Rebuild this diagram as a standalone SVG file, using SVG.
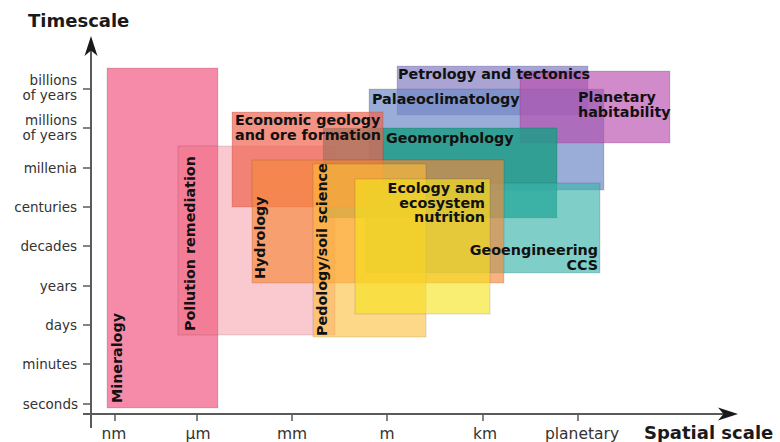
<svg xmlns="http://www.w3.org/2000/svg" width="780" height="442" viewBox="0 0 780 442">
<style>
.area{stroke:#000;stroke-opacity:0.12;stroke-width:1}
.lbl{font-family:"DejaVu Sans","Liberation Sans",sans-serif;font-weight:bold;font-size:14.3px;fill:#111}
.ytk{font-family:"DejaVu Sans","Liberation Sans",sans-serif;font-size:13.5px;fill:#333;text-anchor:end}
.xtk{font-family:"DejaVu Sans","Liberation Sans",sans-serif;font-size:15.5px;fill:#333;text-anchor:middle}
.ttl{font-family:"DejaVu Sans","Liberation Sans",sans-serif;font-weight:bold;font-size:18px;fill:#1a1a1a}
.axis{stroke:#5a5a5a;stroke-width:2;fill:none}
.tick{stroke:#5a5a5a;stroke-width:1.5}
.head{fill:#1a1a1a}
</style>
<rect width="780" height="442" fill="#fff"/>

<g id="areas">
  <g id="mineralogy"><rect class="area" x="107" y="68" width="111" height="340" fill="#F58BA8"/></g>
  <g id="pollution-remediation"><rect class="area" x="178" y="146" width="157" height="189" fill="#F06478" fill-opacity="0.35"/></g>
  <g id="petrology-tectonics"><rect class="area" x="397" y="66" width="191" height="49" fill="#8C86C6" fill-opacity="0.75"/></g>
  <g id="palaeoclimatology"><rect class="area" x="369" y="89" width="235" height="101" fill="#6F8AC8" fill-opacity="0.7"/></g>
  <g id="planetary-habitability"><rect class="area" x="520" y="71" width="150" height="72" fill="#B84CAD" fill-opacity="0.65"/></g>
  <g id="geomorphology"><rect class="area" x="323" y="128" width="234" height="90" fill="#1E9C88" fill-opacity="0.85"/></g>
  <g id="economic-geology"><rect class="area" x="232" y="112" width="151" height="95" fill="#F06450" fill-opacity="0.7"/></g>
  <g id="geoengineering"><rect class="area" x="365" y="183" width="235" height="90" fill="#3BB3AA" fill-opacity="0.65"/></g>
  <g id="hydrology"><rect class="area" x="252" y="160" width="252" height="123" fill="#F6893A" fill-opacity="0.65"/></g>
  <g id="pedology"><rect class="area" x="313" y="164" width="113" height="173" fill="#FDBE3A" fill-opacity="0.6"/></g>
  <g id="ecology"><rect class="area" x="355" y="179" width="135" height="135" fill="#F6E21C" fill-opacity="0.62"/></g>
</g>

<g id="labels">
  <text id="mineralogy-label" class="lbl" transform="translate(122,403) rotate(-90)">Mineralogy</text>
  <text id="pollution-remediation-label" class="lbl" transform="translate(195,331) rotate(-90)">Pollution remediation</text>
  <text id="hydrology-label" class="lbl" transform="translate(265,279) rotate(-90)">Hydrology</text>
  <text id="pedology-label" class="lbl" transform="translate(327,336) rotate(-90)">Pedology/soil science</text>
  <text id="economic-geology-label" class="lbl"><tspan x="235" y="125">Economic geology</tspan><tspan x="235" y="140">and ore formation</tspan></text>
  <text id="petrology-tectonics-label" class="lbl" x="398" y="79">Petrology and tectonics</text>
  <text id="palaeoclimatology-label" class="lbl" x="372" y="104">Palaeoclimatology</text>
  <text id="planetary-habitability-label" class="lbl"><tspan x="578" y="102">Planetary</tspan><tspan x="578" y="117">habitability</tspan></text>
  <text id="geomorphology-label" class="lbl" x="386" y="143">Geomorphology</text>
  <text id="ecology-label" class="lbl" text-anchor="end"><tspan x="485" y="193">Ecology and</tspan><tspan x="485" y="207.5">ecosystem</tspan><tspan x="485" y="222">nutrition</tspan></text>
  <text id="geoengineering-label" class="lbl" text-anchor="end"><tspan x="598" y="255">Geoengineering</tspan><tspan x="598" y="269.5">CCS</tspan></text>
</g>

<g id="connectors">
  <line class="axis" x1="91" y1="50" x2="91" y2="428"/>
  <line class="axis" x1="83" y1="414" x2="724" y2="414"/>
  <path class="head" d="M91,36 L97.5,56 L91,50.5 L84.5,56 Z"/>
  <path class="head" d="M738,414 L718,407.5 L723.5,414 L718,420.5 Z"/>
  <g id="y-ticks">
    <line class="tick" x1="83" y1="89" x2="91" y2="89"/>
    <line class="tick" x1="83" y1="128" x2="91" y2="128"/>
    <line class="tick" x1="83" y1="168" x2="91" y2="168"/>
    <line class="tick" x1="83" y1="207" x2="91" y2="207"/>
    <line class="tick" x1="83" y1="246" x2="91" y2="246"/>
    <line class="tick" x1="83" y1="286" x2="91" y2="286"/>
    <line class="tick" x1="83" y1="325" x2="91" y2="325"/>
    <line class="tick" x1="83" y1="364" x2="91" y2="364"/>
    <line class="tick" x1="83" y1="404" x2="91" y2="404"/>
  </g>
  <g id="x-ticks">
    <line class="tick" x1="115" y1="414" x2="115" y2="421"/>
    <line class="tick" x1="197" y1="414" x2="197" y2="421"/>
    <line class="tick" x1="292" y1="414" x2="292" y2="421"/>
    <line class="tick" x1="387" y1="414" x2="387" y2="421"/>
    <line class="tick" x1="483" y1="414" x2="483" y2="421"/>
    <line class="tick" x1="578" y1="414" x2="578" y2="421"/>
  </g>
</g>

<g id="axis-labels">
  <text class="ttl" x="28" y="27">Timescale</text>
  <text class="ttl" x="644" y="439">Spatial scale</text>
  <text class="ytk"><tspan x="77" y="85">billions</tspan><tspan x="77" y="100">of years</tspan></text>
  <text class="ytk"><tspan x="77" y="124.5">millions</tspan><tspan x="77" y="139.5">of years</tspan></text>
  <text class="ytk" x="77" y="173">millenia</text>
  <text class="ytk" x="77" y="212">centuries</text>
  <text class="ytk" x="77" y="251">decades</text>
  <text class="ytk" x="77" y="291">years</text>
  <text class="ytk" x="77" y="330">days</text>
  <text class="ytk" x="77" y="369">minutes</text>
  <text class="ytk" x="78" y="409">seconds</text>
  <text class="xtk" x="114" y="439">nm</text>
  <text class="xtk" x="198" y="439">µm</text>
  <text class="xtk" x="292" y="439">mm</text>
  <text class="xtk" x="387" y="439">m</text>
  <text class="xtk" x="485" y="439">km</text>
  <text class="xtk" x="582" y="439">planetary</text>
</g>
</svg>
